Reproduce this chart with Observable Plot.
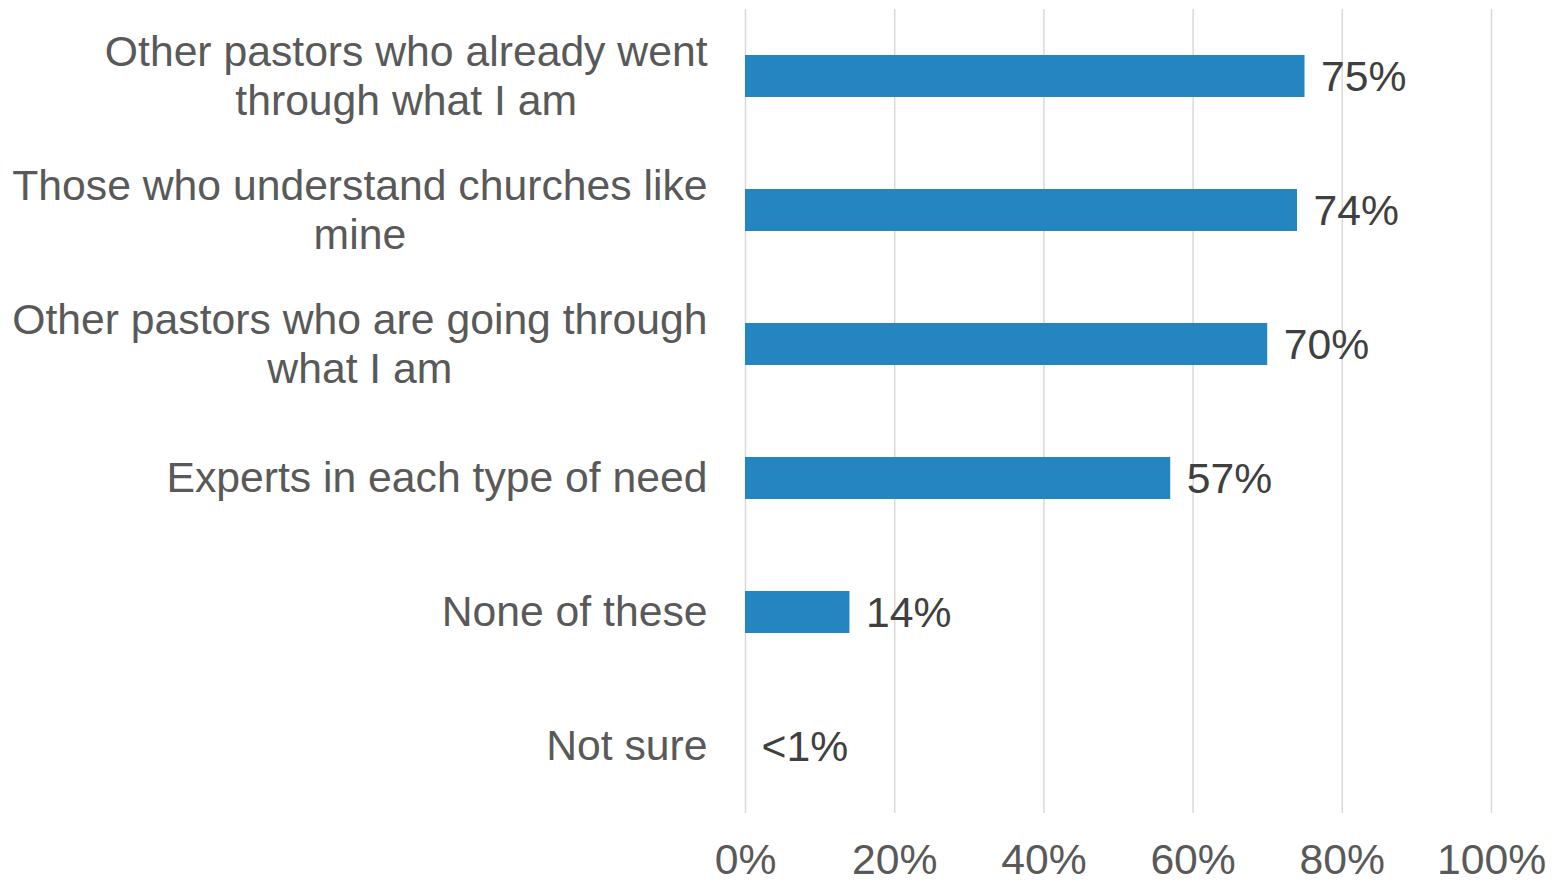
<!DOCTYPE html>
<html>
<head>
<meta charset="utf-8">
<script src="https://cdn.jsdelivr.net/npm/d3@7"></script>
<script src="https://cdn.jsdelivr.net/npm/@observablehq/plot@0.6"></script>
<style>
  html, body { margin: 0; padding: 0; background: #fff; }
  #chart svg { display: block; }
</style>
</head>
<body>
<div id="chart"></div>
<script>
const categories = [
  "Other pastors who already went\nthrough what I am",
  "Those who understand churches like\nmine",
  "Other pastors who are going through\nwhat I am",
  "Experts in each type of need",
  "None of these",
  "Not sure"
];
const values = [75, 74, 70, 57, 14, 0];
const valueLabels = ["75%", "74%", "70%", "57%", "14%", "<1%"];
const xTicks = [0, 20, 40, 60, 80, 100];

const data = categories.map((c, i) => ({category: c, value: values[i], label: valueLabels[i]}));

const FS = 42.7;
const chart = Plot.plot({
  width: 1557,
  height: 883,
  marginLeft: 745,
  marginRight: 66,
  marginTop: 9,
  marginBottom: 70,
  style: {fontFamily: "'Liberation Sans', Arial, sans-serif", background: "#fff"},
  x: {domain: [0, 100], ticks: xTicks},
  y: {domain: categories, paddingInner: 0.6866, paddingOuter: 0.3433},
  marks: [
    Plot.gridX(xTicks, {stroke: "#d9d9d9", strokeOpacity: 1, strokeWidth: 1.5}),
    Plot.barX(data, {x: "value", y: "category", fill: "#2585c0"}),
    Plot.text(data, {x: "value", y: "category", text: "label", textAnchor: "start", dx: 16, dy: 1, fontSize: FS, fill: "#404040"}),
    Plot.axisX(xTicks, {tickSize: 0, tickPadding: 30, fontSize: FS, color: "#595959", tickFormat: d => d + "%", label: null}),
    Plot.axisY({tickSize: 0, tickPadding: 38, dy: -2, fontSize: FS, color: "#595959", lineHeight: 1.15, label: null})
  ]
});
document.getElementById("chart").appendChild(chart);

// center multi-line y labels within their block (block stays right-aligned)
const yGroup = chart.querySelector('g[aria-label="y-axis tick label"]');
if (yGroup) {
  yGroup.querySelectorAll("text").forEach(t => {
    const spans = t.querySelectorAll("tspan");
    if (spans.length > 1) {
      let maxW = 0;
      spans.forEach(s => { maxW = Math.max(maxW, s.getComputedTextLength()); });
      t.setAttribute("text-anchor", "middle");
      spans.forEach(s => s.setAttribute("x", -maxW / 2));
    }
  });
}
</script>
</body>
</html>
